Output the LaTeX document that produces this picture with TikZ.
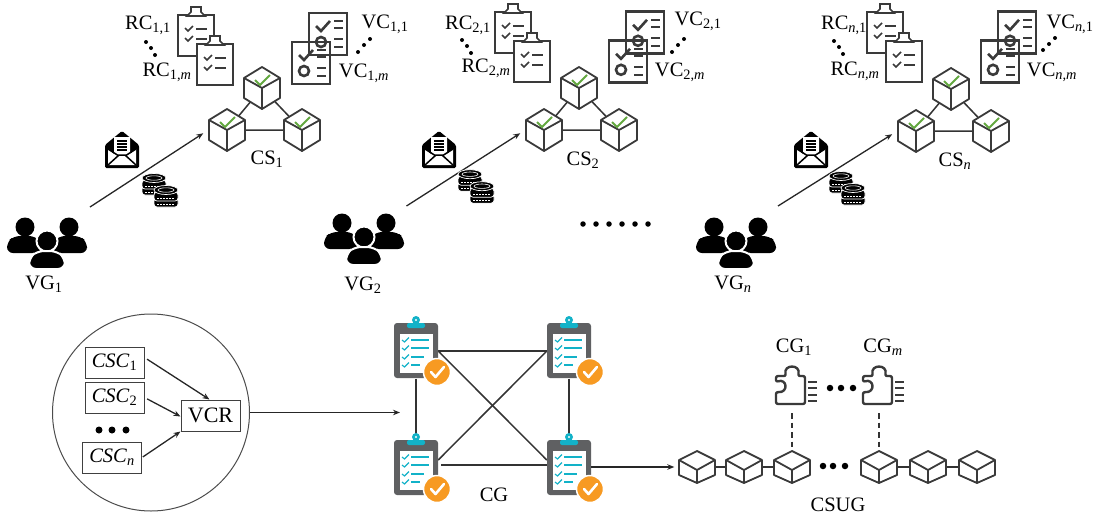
\documentclass[tikz,border=0pt]{standalone}
\usepackage{fontspec}
\setmainfont{Liberation Serif}
\usetikzlibrary{arrows.meta}
\definecolor{ink}{HTML}{3A3A3A}
\definecolor{okgreen}{HTML}{63A83F}
\definecolor{boardgray}{HTML}{5F6062}
\definecolor{teal}{HTML}{12B2C8}
\definecolor{okorange}{HTML}{F79A22}
\tikzset{
  x=1pt,y=-1pt,
  lab/.style={inner sep=0pt,font=\fontsize{20.5}{22}\selectfont},
  arr/.style={draw=black!85,line width=1.3pt,-{Stealth[length=7pt,width=5.5pt]}},
  link/.style={draw=black!80,line width=1.5pt},
  hub/.style={circle,minimum size=37pt,inner sep=0pt},
  boardnode/.style={rectangle,minimum width=44pt,minimum height=55pt,inner sep=0pt},
  puzzlenode/.style={rectangle,minimum width=30pt,minimum height=44pt,inner sep=0pt},
  boxn/.style={draw=black!75,line width=1pt,fill=white,inner sep=0pt,minimum height=31pt,font=\fontsize{20.5}{22}\selectfont},
  dot/.style={fill=black,circle,inner sep=0pt,minimum size=#1},
  cube/.pic={
    \draw[ink,line width=1.8pt,line join=round,fill=white] (0,-21)--(18,-10)--(18,10)--(0,21)--(-18,10)--(-18,-10)--cycle;
    \draw[ink,line width=1.8pt,line join=round] (-18,-10)--(0,0)--(18,-10) (0,0)--(0,21);
    \draw[okgreen,line width=1.8pt] (-7,-8)--(-2,-3)--(8,-13);
  },
  flatcube/.pic={
    \draw[ink,line width=1.8pt,line join=round,fill=white] (0,-16)--(18,-7)--(18,8)--(0,16)--(-18,8)--(-18,-7)--cycle;
    \draw[ink,line width=1.8pt,line join=round] (-18,-7)--(0,3)--(18,-7) (0,3)--(0,16);
  },
  rcboard/.pic={
    \draw[ink,line width=1.7pt,fill=white] (-18,-20) rectangle (18,21);
    \draw[ink,line width=1.7pt,fill=white] (-9,-19)--(-5,-23)--(-5,-28)--(5,-28)--(5,-23)--(9,-19)--cycle;
    \draw[ink,line width=1.6pt] (-11,-7)--(-8,-4)--(-3,-9) (-11,3)--(-8,6)--(-3,1);
    \draw[ink,line width=1.9pt] (0,-6)--(11,-6) (0,4)--(11,4);
  },
  vcboard/.pic={
    \draw[ink,line width=2.8pt] (-19,-21) rectangle (19,21);
    \draw[ink,line width=2.6pt] (-12,-8)--(-7,-3)--(2,-13);
    \draw[ink,line width=2.6pt] (6,-13)--(15,-13) (6,-6)--(15,-6) (6,5)--(15,5) (6,13)--(15,13);
    \draw[ink,line width=2.6pt] (-7,8) circle[radius=5];
  },
  people/.pic={
    \fill[black] (-22,-14) circle[radius=9.5] (22,-14) circle[radius=9.5];
    \fill[black,rounded corners=6pt] (-40,12)--(-40,1)--(-33,-5)--(-12,-5)--(-6,1)--(-6,12)--cycle;
    \fill[black,rounded corners=6pt] (40,12)--(40,1)--(33,-5)--(12,-5)--(6,1)--(6,12)--cycle;
    \fill[black,draw=white,line width=2pt] (0,0) circle[radius=10.5];
    \fill[black,draw=white,line width=2pt,rounded corners=7pt] (-18,28)--(-18,17)--(-10,10)--(10,10)--(18,17)--(18,28)--cycle;
  },
  envelope/.pic={
    \fill[black,rounded corners=1.5pt] (-17,18)--(-17,-5)--(-11,-10)--(0,-19)--(11,-10)--(17,-5)--(17,18)--cycle;
    \fill[white] (-14,15)--(-14,-1)--(-8,4)--(-8,-13)--(8,-13)--(8,4)--(14,-1)--(14,15)--cycle;
    \draw[black,line width=1.5pt] (-14,15)--(-3,5)--(3,5)--(14,15) (-14,-1)--(-3,6) (14,-1)--(3,6);
    \draw[black,line width=1.1pt] (-5,-9)--(5,-9) (-5,-6)--(5,-6) (-5,-3)--(5,-3) (-5,0)--(5,0);
  },
  coin/.pic={
    \fill[black,draw=white,line width=.7pt,rounded corners=3pt] (-12,-4) rectangle (12,5);
    \draw[white,line width=.8pt,dash pattern=on 1.5pt off 1.5pt] (-9,2)--(9,2);
  },
  coinstack/.pic={
    \pic at (0,10) {coin};
    \pic at (0,4) {coin};
    \fill[black,draw=white,line width=.7pt] (0,-2) ellipse[x radius=12,y radius=4.5];
    \draw[white,line width=.6pt] (0,-2) ellipse[x radius=8,y radius=2.2];
  },
  bigboard/.pic={
    \fill[boardgray,rounded corners=3pt] (-22,-28) rectangle (22,27);
    \fill[white] (-16,-17) rectangle (17,22);
    \fill[teal,rounded corners=2pt] (-9,-23) rectangle (9,-28);
    \fill[teal] (0,-31) circle[radius=4];
    \fill[white] (0,-31) circle[radius=1.2];
    \foreach \yy/\ll in {-11/13,-3/13,6/8,14/4}{
      \draw[teal,line width=1.1pt] (-14,\yy)--(-11.5,\yy+2)--(-7,\yy-2.5);
      \draw[teal,line width=1.8pt] (-5,\yy)--(\ll,\yy);
    }
    \fill[okorange,draw=white,line width=1.5pt] (21,21) circle[radius=13.5];
    \draw[white,line width=2.6pt,line cap=round,line join=round] (15,21)--(19.5,26)--(28,16);
  },
  puzzle/.pic={
    \draw[ink,line width=2.4pt,line join=round,rounded corners=2pt]
      (13,-8)--(6,-8) .. controls (9,-20) and (-9,-20) .. (-6,-8)--(-16,-8)--(-16,-2)
      .. controls (-5,-6) and (-3,9) .. (-16,8)--(-16,20)--(13,20)--cycle;
    \draw[ink,line width=2.2pt] (16,-2)--(25,-2) (16,4)--(25,4) (16,11)--(25,11) (16,17)--(25,17);
  },
}
\begin{document}
\begin{tikzpicture}
\useasboundingbox (0,0) rectangle (1093,517);
% three consensus groups
\foreach \s/\dx/\dy/\by/\pdy in {1/0/0/0/0,2/317/0/-3/-4,3/689/1/-3/0}{
  \node[hub] (top\s) at (262+\dx,88+\dy) {};
  \node[hub] (lef\s) at (227+\dx,130+\dy) {};
  \node[hub] (rig\s) at (302+\dx,130+\dy) {};
  \draw[link] (top\s)--(lef\s) (top\s)--(rig\s) (lef\s)--(rig\s);
  \pic at (top\s) {cube};
  \pic at (lef\s) {cube};
  \pic at (rig\s) {cube};
  \pic at (196+\dx,35+\by) {rcboard};
  \pic at (215+\dx,64+\by) {rcboard};
  \pic at (328+\dx,34+\by*0.4) {vcboard};
  \pic at (311+\dx,63+\by*0.4) {vcboard};
  \node[inner sep=0pt,minimum size=2pt] (gp\s) at (47+\dx,241+\pdy) {};
  \pic at (gp\s) {people};
  \coordinate (st\s) at (90+\dx-\s*0.5+0.5,207+\pdy*0.25-\dy);
  \draw[arr,shorten >=6pt] (st\s)--(lef\s.west);
  \pic at (122+\dx,150) {envelope};
  \pic at (154+\dx-\s+1,180+\pdy*0.7-\s+1) {coinstack};
  \pic at (166+\dx-\s+1,192+\pdy*0.7-\s+1) {coinstack};
}
% labels, group 1
\node[lab] (rc11) at (148,25) {RC\textsubscript{1,1}};
\node[lab] (rc1m) at (167,72) {RC\textsubscript{1,\textit{m}}};
\node[lab] (vc11) at (385,24) {VC\textsubscript{1,1}};
\node[lab] (vc1m) at (364,73) {VC\textsubscript{1,\textit{m}}};
\node[lab] (cs1) at (267,159) {CS\textsubscript{1}};
\node[lab] (vg1) at (44,284) {VG\textsubscript{1}};
% labels, group 2
\node[lab] (rc21) at (468,25) {RC\textsubscript{2,1}};
\node[lab] (rc2m) at (486,68) {RC\textsubscript{2,\textit{m}}};
\node[lab] (vc21) at (698,21) {VC\textsubscript{2,1}};
\node[lab] (vc2m) at (680,72) {VC\textsubscript{2,\textit{m}}};
\node[lab] (cs2) at (583,160) {CS\textsubscript{2}};
\node[lab] (vg2) at (363,285) {VG\textsubscript{2}};
% labels, group n
\node[lab] (rcn1) at (844,25) {RC\textsubscript{\textit{n},1}};
\node[lab] (rcnm) at (855,71) {RC\textsubscript{\textit{n,m}}};
\node[lab] (vcn1) at (1070,24) {VC\textsubscript{\textit{n},1}};
\node[lab] (vcnm) at (1052,72) {VC\textsubscript{\textit{n,m}}};
\node[lab] (csn) at (955,161) {CS\textsubscript{\textit{n}}};
\node[lab] (vgn) at (733,284) {VG\textsubscript{\textit{n}}};
% little dots
\foreach \a/\b/\c/\d/\e/\f in {146/42/151/48/155/55,358/52/364/45/370/39,462/40/467/46/471/53,672/52/678/45/684/39,834/41/839/47/843/54,1043/50/1049/44/1055/38}{
  \node[dot=4pt] at (\a,\b) {};
  \node[dot=4pt] at (\c,\d) {};
  \node[dot=4pt] at (\e,\f) {};
}
\foreach \xx in {583,596,609,622,635,648}{\node[dot=5.5pt] at (\xx,224) {};}
% VCR circle
\node[draw=black!70,line width=1pt,circle,minimum size=197pt,inner sep=0pt] (ring) at (151,412.5) {};
\node[boxn,minimum width=59pt] (csc1) at (114.5,362.5) {\textit{CSC}\textsubscript{1}};
\node[boxn,minimum width=59pt] (csc2) at (114.5,397.5) {\textit{CSC}\textsubscript{2}};
\node[boxn,minimum width=59pt] (cscn) at (112,457.5) {\textit{CSC}\textsubscript{\textit{n}}};
\node[boxn,minimum width=59pt,font=\fontsize{22}{24}\selectfont] (vcr) at (210.5,415.5) {VCR};
\foreach \xx in {99,112,126}{\node[dot=7pt] at (\xx,430) {};}
\draw[arr,shorten <=3pt] ([yshift=5pt]csc1.east) -- ([xshift=-1pt]vcr.north);
\draw[arr,shorten <=3pt] (csc2.east) -- ([yshift=-1pt]vcr.west);
\draw[arr,shorten <=1pt] (cscn.east) -- (vcr.south west);
% CG
\node[boardnode] (tl) at (416,351) {};
\node[boardnode] (tr) at (569,351) {};
\node[boardnode] (bl) at (416,468) {};
\node[boardnode] (br) at (569,468) {};
\draw[link] (tl.east)--(tr.west);
\draw[link] (tl.east)--([yshift=8pt]br.west);
\draw[link] ([yshift=8pt]bl.east)--(tr.west);
\draw[link] (tl.south)--(bl.north);
\draw[link] (tr.south)--(br.north);
\draw[link] ([xshift=3pt,yshift=3pt]bl.east)--([yshift=3pt]br.west);
\pic at (tl) {bigboard};
\pic at (tr) {bigboard};
\pic at (bl) {bigboard};
\pic at (br) {bigboard};
\node[lab] (cglab) at (494,495) {CG};
\coordinate (tip) at (400,412.5);
\draw[arr] (ring.east)--(tip);
% CSUG chain
\node[hub] (k1) at (697,467) {};
\node[hub] (k2) at (744,467) {};
\node[hub] (k3) at (792,467) {};
\node[hub] (k4) at (879,467) {};
\node[hub] (k5) at (928,467) {};
\node[hub] (k6) at (977,467) {};
\draw[link] (k1)--(k2);
\draw[link] (k2)--(k3);
\draw[link] (k4)--(k5);
\draw[link] (k5)--(k6);
\foreach \k in {k1,k2,k3,k4,k5,k6}{\pic at (\k) {flatcube};}
\draw[arr,shorten >=4pt] ([yshift=1pt]br.east)--(k1.west);
\foreach \xx in {823,833,845}{\node[dot=6.5pt] at (\xx,466) {};}
\node[puzzlenode] (pz1) at (792,384) {};
\node[puzzlenode] (pz2) at (879,384) {};
\pic at (pz1) {puzzle};
\pic at (pz2) {puzzle};
\foreach \xx in {830,841,853}{\node[dot=6.5pt] at (\xx,388) {};}
\draw[draw=black!80,line width=1.3pt,dash pattern=on 5.5pt off 4pt,shorten <=7pt,shorten >=1pt] (pz1)+(0,22)--(k3);
\draw[draw=black!80,line width=1.3pt,dash pattern=on 5.5pt off 4pt,shorten <=7pt,shorten >=1pt] (pz2)+(0,22)--(k4);
\node[lab] (cg1) at (794,347) {CG\textsubscript{1}};
\node[lab] (cgm) at (883,347) {CG\textsubscript{\textit{m}}};
\node[lab] (csug) at (838,505) {CSUG};
\end{tikzpicture}
\end{document}
